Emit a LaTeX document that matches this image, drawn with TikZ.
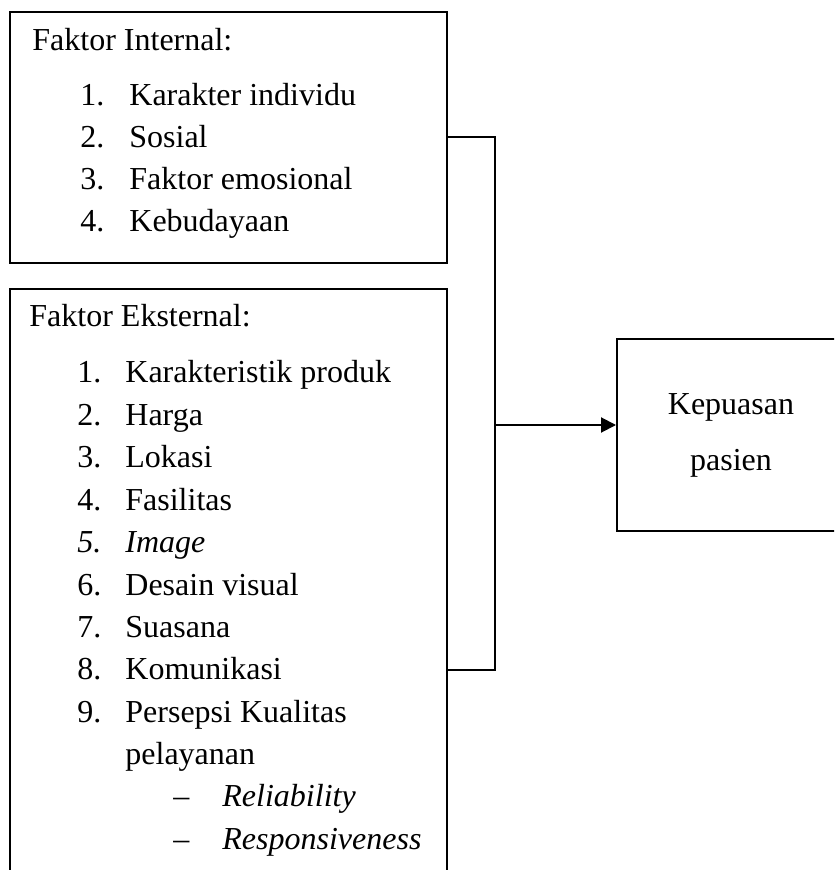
\documentclass[tikz,border=0pt]{standalone}
\usepackage{fontspec}
\setmainfont{Liberation Serif}
\usetikzlibrary{arrows.meta}

\tikzset{
	box/.style={draw, line width=1pt, inner sep=0pt},
	txt/.style={anchor=base west, inner sep=0pt, font=\fontsize{16}{19}\selectfont},
	link/.style={line width=1pt}
}

\begin{document}
\begin{tikzpicture}[x=0.5pt, y=-0.5pt]

	\clip (0,0) rectangle (834,870);

	% Boxes

	\node[box, minimum width=218.5pt, minimum height=125.5pt] (int) at (228.5, 137.5) {};
	\node[box, minimum width=218.5pt, minimum height=381pt] (ext) at (228.5, 670) {};
	\node[box, minimum width=114pt, minimum height=96pt, align=center,
		font=\fontsize{16}{28}\selectfont] (kep) at (731, 435) {Kepuasan\\pasien};

	% Internal factors
	\node[txt] (I0) at (32, 51) {Faktor Internal:};
	\node[txt] (I1n) at (80, 106) {1.};
	\node[txt] (I1) at (129, 106) {Karakter individu};
	\node[txt] (I2n) at (80, 148) {2.};
	\node[txt] (I2) at (129, 148) {Sosial};
	\node[txt] (I3n) at (80, 190) {3.};
	\node[txt] (I3) at (129, 190) {Faktor emosional};
	\node[txt] (I4n) at (80, 232) {4.};
	\node[txt] (I4) at (129, 232) {Kebudayaan};

	% External factors
	\node[txt] (E0) at (29, 327) {Faktor Eksternal:};
	\node[txt] (E1n) at (77, 383) {1.};
	\node[txt] (E1) at (125, 383) {Karakteristik produk};
	\node[txt] (E2n) at (77, 425) {2.};
	\node[txt] (E2) at (125, 425) {Harga};
	\node[txt] (E3n) at (77, 467) {3.};
	\node[txt] (E3) at (125, 467) {Lokasi};
	\node[txt] (E4n) at (77, 510) {4.};
	\node[txt] (E4) at (125, 510) {Fasilitas};
	\node[txt] (E5n) at (77, 552) {\textit{5.}};
	\node[txt] (E5) at (125, 552) {\textit{Image}};
	\node[txt] (E6n) at (77, 595) {6.};
	\node[txt] (E6) at (125, 595) {Desain visual};
	\node[txt] (E7n) at (77, 637) {7.};
	\node[txt] (E7) at (125, 637) {Suasana};
	\node[txt] (E8n) at (77, 679) {8.};
	\node[txt] (E8) at (125, 679) {Komunikasi};
	\node[txt] (E9n) at (77, 722) {9.};
	\node[txt] (E9) at (125, 722) {Persepsi Kualitas};
	\node[txt] (E9b) at (125, 764) {pelayanan};
	\node[txt] (Ea) at (173, 806) {--};
	\node[txt] (Eat) at (222, 806) {\textit{Reliability}};
	\node[txt] (Eb) at (173, 849) {--};
	\node[txt] (Ebt) at (222, 849) {\textit{Responsiveness}};

	% Bracket and arrow
	\coordinate (join) at (495, 425);
	\draw[link] (int.east) -| (join) |- (ext.east);
	\draw[link, -{Triangle[length=7.5pt, width=7.5pt]}] (join) -- (join -| kep.west);
\end{tikzpicture}
\end{document}
